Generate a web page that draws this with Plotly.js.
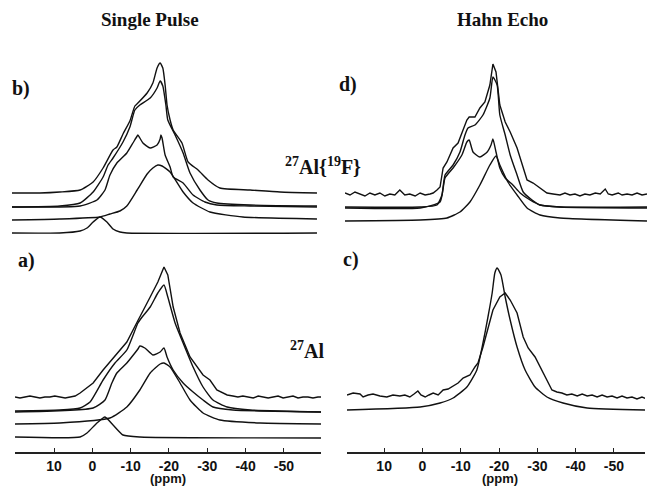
<!DOCTYPE html>
<html>
<head>
<meta charset="utf-8">
<script src="https://cdn.plot.ly/plotly-3.0.1.min.js"></script>
<style>html,body{margin:0;padding:0;background:#fff;}#chart{width:647px;height:487px;}</style>
</head>
<body>
<div id="chart"></div>
<script>
// ---- tick labels ----
const tickVals = [10, 0, -10, -20, -30, -40, -50];
const tickText = ['10', '0', '-10', '-20', '-30', '-40', '-50'];

// ---- panel b) Single Pulse, 27Al{19F} (ppm, intensity) ----
const bPpm1 = [21.0,13.7,8.5,3.2,-0.2,-2.8,-5.4,-6.4,-8.0,-9.8,-11.1,-11.9,-14.3,-15.8,-16.9,-17.7,-18.4,-19.0,-19.5,-20.3,-21.1,-23.4,-25.0,-27.6,-30.2,-33.3,-41.2,-49.0,-58.65];
const bInt1 = [47,47,48,50,58,72,90,93,106,119,134,137,147,157,172,177,172,155,135,120,110,97,78,70,60,52,50,48,47];
const bPpm2 = [21.0,8.5,3.2,-0.2,-2.8,-4.1,-5.4,-8.0,-9.8,-11.1,-12.4,-15.1,-16.9,-17.7,-18.4,-19.2,-19.7,-21.6,-23.7,-25.5,-28.1,-30.2,-32.5,-41.2,-58.65];
const bInt2 = [33,34,37,48,63,75,82,98,113,130,135,142,152,159,154,135,120,105,87,67,50,40,37,35,34];
const bPpm3 = [21.0,3.2,-1.2,-3.3,-4.6,-6.4,-9.0,-10.6,-11.7,-11.9,-12.4,-13.2,-15.1,-16.9,-17.7,-17.9,-18.2,-19.0,-20.3,-21.1,-23.7,-26.3,-29.4,-32.5,-41.2,-58.65];
const bInt3 = [33,34,40,50,65,77,87,97,104,105,102,97,92,95,101,105,102,85,73,63,57,45,38,35,34,33];
const bPpm4 = [21.0,8.5,-2.0,-4.6,-7.2,-9.0,-11.7,-14.3,-15.8,-17.1,-18.2,-20.3,-23.7,-26.3,-30.7,-39.3,-58.65];
const bInt4 = [20,21,23,26,29,34,50,66,72,75,74,68,48,37,28,23,21];
const bPpm5 = [21.0,8.5,3.2,1.4,-0.2,-2.0,-3.8,-5.4,-7.2,-9.0,-58.65];
const bInt5 = [7,7,9,12,18,23,18,11,8,7,7];

// ---- panel a) Single Pulse, 27Al ----
const aPpm1 = [20.2,18.9,17.6,16.3,15.0,13.7,12.4,11.1,9.8,8.5,7.1,5.8,4.5,3.2,-0.2,-2.8,-5.4,-9.0,-11.7,-13.0,-15.1,-17.1,-18.7,-19.7,-21.1,-22.9,-25.5,-28.9,-30.7,-32.5,-35.2,-36.7,-38.0,-39.3,-40.6,-42.0,-43.3,-44.6,-45.9,-47.2,-48.5,-49.8,-51.1,-52.4,-53.7,-55.0,-56.3,-57.6,-58.9,-59.7];
const aInt1 = [55,54,55,56,55,54,55,55,56,55,54,55,56,59,69,82,94,110,130,139,155,170,185,177,145,119,95,77,72,62,57,56,55,56,55,54,56,55,54,55,56,54,55,56,54,55,55,54,55,55];
const aPpm2 = [20.2,8.5,3.2,0.6,-2.8,-5.9,-9.0,-11.9,-13.0,-15.1,-17.1,-18.7,-19.7,-21.6,-23.7,-26.3,-28.9,-31.5,-35.2,-41.2,-59.7];
const aInt2 = [41,42,44,50,72,89,102,129,135,145,159,167,155,129,109,85,65,52,45,42,40];
const aPpm3 = [20.2,-0.2,-3.3,-5.1,-6.4,-9.0,-11.1,-11.9,-12.4,-13.7,-15.8,-17.7,-18.7,-19.5,-21.1,-23.7,-26.3,-28.9,-31.5,-36.7,-59.7];
const aInt3 = [40,44,52,69,79,89,99,103,106,104,97,100,104,95,82,69,60,52,45,42,40];
const aPpm4 = [20.2,8.5,-4.6,-9.0,-12.4,-15.1,-17.7,-18.7,-20.3,-22.9,-25.5,-28.9,-33.3,-43.8,-59.7];
const aInt4 = [28,29,34,45,62,79,88,89,85,69,52,39,32,29,28];
const aPpm5 = [20.2,3.2,1.4,-1.2,-3.3,-5.4,-8.0,-12.4,-59.7];
const aInt5 = [15,15,19,29,35,27,17,15,14];

// ---- panel d) Hahn Echo, 27Al{19F} ----
const dPpm1 = [20.2,18.9,17.6,16.3,15.0,13.7,12.4,11.1,9.8,8.5,7.2,5.9,4.6,3.3,1.9,0.6,-0.7,-2.0,-2.8,-3.8,-4.6,-5.4,-6.4,-8.0,-9.3,-10.6,-11.6,-12.2,-13.7,-15.0,-16.3,-17.6,-18.4,-19.2,-20.2,-21.6,-22.9,-24.7,-26.3,-27.3,-28.9,-30.7,-32.5,-34.1,-35.9,-37.2,-38.5,-39.8,-41.1,-42.4,-43.7,-45.1,-46.4,-47.7,-48.5,-49.5,-51.1,-52.1,-53.4,-54.7,-56.0,-57.3,-58.6];
const dInt1 = [47,45,48,46,44,47,45,47,44,46,45,50,45,46,44,47,45,46,47,50,53,72,78,92,97,110,120,123,123,132,138,155,176,168,135,118,108,92,72,60,57,52,47,46,45,47,45,46,44,46,45,47,46,51,46,45,47,45,46,45,47,45,46];
const dPpm2 = [20.2,0.6,-3.8,-5.1,-5.9,-8.0,-9.8,-11.1,-11.9,-13.7,-15.8,-17.6,-18.4,-19.5,-20.2,-21.6,-22.9,-24.7,-26.3,-28.6,-30.7,-35.9,-58.6];
const dInt2 = [33,33,35,45,65,75,88,105,112,115,125,142,163,155,125,105,85,65,48,40,35,33,33];
const dPpm3 = [20.2,0.6,-4.6,-5.9,-8.0,-10.3,-11.6,-12.2,-13.2,-15.0,-16.9,-17.9,-18.4,-19.2,-20.2,-21.6,-23.6,-25.5,-28.1,-30.7,-35.9,-58.6];
const dInt3 = [32,32,38,62,72,85,98,100,88,83,88,95,101,88,72,62,55,47,40,35,33,32];
const dPpm4 = [20.2,0.6,-6.4,-9.8,-12.4,-15.0,-17.6,-19.2,-20.2,-22.3,-24.7,-27.3,-30.7,-35.9,-58.6];
const dInt4 = [19,20,22,28,38,55,75,84,75,58,45,32,25,22,19];

// ---- panel c) Hahn Echo, 27Al ----
const cPpm1 = [19.7,18.1,16.3,15.5,14.2,12.9,11.1,9.3,7.7,5.9,4.6,3.3,2.2,1.2,0.4,-0.7,-1.7,-2.8,-4.1,-5.4,-6.7,-8.0,-9.3,-10.6,-12.4,-13.7,-14.5,-15.8,-17.1,-18.4,-20.2,-21.6,-22.9,-24.7,-26.3,-27.6,-29.4,-31.5,-33.8,-35.1,-36.4,-37.7,-39.0,-40.4,-41.7,-43.0,-44.3,-45.6,-46.9,-48.2,-49.5,-50.8,-52.1,-53.4,-54.7,-56.0,-57.3,-58.6];
const cInt1 = [57,59,58,55,57,58,56,55,57,56,57,55,58,61,57,55,57,59,57,62,63,66,69,74,77,85,89,105,125,142,155,159,152,139,115,104,95,79,62,60,59,57,58,56,58,56,57,55,57,55,56,54,56,54,55,53,55,53];
const cPpm2 = [19.7,0.6,-4.6,-8.0,-11.6,-14.2,-15.8,-17.1,-18.2,-18.9,-19.5,-20.5,-21.6,-22.9,-24.7,-26.8,-29.4,-32.5,-36.7,-43.0,-58.6];
const cInt2 = [42,45,49,54,65,82,109,135,159,179,184,177,155,132,105,82,65,55,49,44,42];

function tr(x, y, xa, ya, smooth) {
  const line = {color: '#111', width: 1.4};
  if (smooth) { line.shape = 'spline'; line.smoothing = 0.5; } else { line.shape = 'linear'; }
  return {x: x, y: y, xaxis: xa, yaxis: ya, type: 'scatter', mode: 'lines', line: line, hoverinfo: 'skip'};
}

const data = [
  tr(bPpm1, bInt1, 'x3', 'y3', true), tr(bPpm2, bInt2, 'x3', 'y3', true), tr(bPpm3, bInt3, 'x3', 'y3', true),
  tr(bPpm4, bInt4, 'x3', 'y3', true), tr(bPpm5, bInt5, 'x3', 'y3', true),
  tr(aPpm1, aInt1, 'x', 'y', false), tr(aPpm2, aInt2, 'x', 'y', true), tr(aPpm3, aInt3, 'x', 'y', true),
  tr(aPpm4, aInt4, 'x', 'y', true), tr(aPpm5, aInt5, 'x', 'y', true),
  tr(dPpm1, dInt1, 'x4', 'y4', false), tr(dPpm2, dInt2, 'x4', 'y4', true), tr(dPpm3, dInt3, 'x4', 'y4', true),
  tr(dPpm4, dInt4, 'x4', 'y4', true),
  tr(cPpm1, cInt1, 'x2', 'y2', false), tr(cPpm2, cInt2, 'x2', 'y2', true)
];

const W = 647, H = 487;
const px = v => v / W;
const py = v => 1 - v / H;

const sansBold = {family: 'Liberation Sans, Arial, sans-serif', size: 14, color: '#111', weight: 'bold'};
const visX = {
  showline: true, linecolor: '#222', linewidth: 2, ticks: 'inside', ticklen: 4, tickwidth: 1,
  tickcolor: '#222', tickvals: tickVals, ticktext: tickText.map(t => '<b>' + t + '</b>'),
  tickfont: sansBold, ticklabelstandoff: 0,
  showgrid: false, zeroline: false, fixedrange: true
};
const hidX = {visible: false, showgrid: false, zeroline: false};
const hidY = {visible: false, showgrid: false, zeroline: false};

const serif = {family: 'Liberation Serif, Times New Roman, serif', size: 19, color: '#111', weight: 'bold'};
const serif20 = Object.assign({}, serif, {size: 20});
function ann(text, x, y, font, xanchor) {
  return {text: '<b>' + text + '</b>', x: px(x), y: py(y), xref: 'paper', yref: 'paper', showarrow: false,
          xanchor: xanchor || 'center', yanchor: 'middle', font: font, borderpad: 0};
}

const layout = {
  width: W, height: H,
  margin: {l: 0, r: 0, t: 0, b: 0},
  paper_bgcolor: '#fff', plot_bgcolor: '#fff',
  showlegend: false,
  xaxis: Object.assign({}, visX, {domain: [px(15), px(321)], range: [20.2, -59.7], anchor: 'y'}),
  yaxis: Object.assign({}, hidY, {domain: [py(452), py(250)], range: [0, 202], anchor: 'x'}),
  xaxis2: Object.assign({}, visX, {domain: [px(347), px(645)], range: [19.7, -58.1], anchor: 'y2'}),
  yaxis2: Object.assign({}, hidY, {domain: [py(452), py(250)], range: [0, 202], anchor: 'x2'}),
  xaxis3: Object.assign({}, hidX, {domain: [px(12), px(321)], range: [20.98, -59.7], anchor: 'y3'}),
  yaxis3: Object.assign({}, hidY, {domain: [py(240), py(45)], range: [0, 195], anchor: 'x3'}),
  xaxis4: Object.assign({}, hidX, {domain: [px(345), px(647)], range: [20.2, -58.6], anchor: 'y4'}),
  yaxis4: Object.assign({}, hidY, {domain: [py(240), py(45)], range: [0, 195], anchor: 'x4'}),
  annotations: [
    ann('Single Pulse', 150, 20, serif),
    ann('Hahn Echo', 502, 20, serif),
    ann('b)', 21, 88, serif20),
    ann('a)', 26, 260, serif20),
    ann('d)', 348, 84, serif20),
    ann('c)', 351, 259, serif20),
    ann('<sup>27</sup>Al{<sup>19</sup>F}', 284, 166, serif20, 'left'),
    ann('<sup>27</sup>Al', 289, 350, serif20, 'left'),
    ann('(ppm)', 168, 478.5, Object.assign({}, sansBold, {size: 13})),
    ann('(ppm)', 500, 478.5, Object.assign({}, sansBold, {size: 13}))
  ]
};

Plotly.newPlot('chart', data, layout, {staticPlot: true, displayModeBar: false});
</script>
</body>
</html>
